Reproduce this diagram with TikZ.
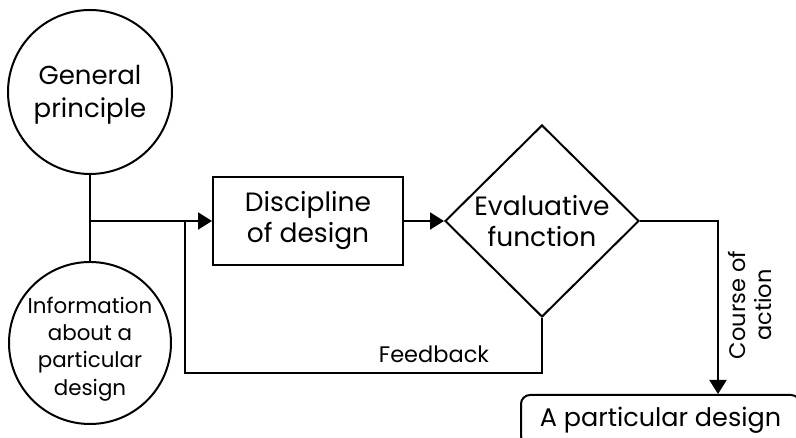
\documentclass[tikz,border=0pt]{standalone}
\usepackage{fontspec}
\setmainfont{Poppins}
\usetikzlibrary{arrows.meta,shapes.geometric}
\begin{document}
\begin{tikzpicture}[x=1pt,y=1pt,
  line width=2pt,
  every node/.style={align=center, inner sep=0pt},
  roundnode/.style={circle, draw, minimum size=#1},
  tip/.style={-{Triangle[length=14pt,width=17pt]}},
  bigtext/.style={font=\fontsize{26}{33}\selectfont},
  padtext/.style={font=\fontsize{25.5}{30}\selectfont},
  midtext/.style={font=\fontsize{26.5}{31}\selectfont},
  smalltext/.style={font=\fontsize{21.4}{27.3}\selectfont},
  labeltext/.style={font=\fontsize{22.5}{26}\selectfont}]
\useasboundingbox (0,0) rectangle (796,438);
\clip (0,0) rectangle (796,438);

% inputs: circles with their text set a little below the centre
\node[roundnode=164pt, label={[bigtext, yshift=-3pt]center:General\\principle}] (gp) at (90,346) {};
\node[roundnode=162pt, label={[smalltext, yshift=-6pt]center:Information\\about a\\particular\\design}] (info) at (90,95) {};
\coordinate (J) at (90,217);

% process
\node[draw, minimum width=190pt, minimum height=88pt, midtext] (disc) at (308,217) {Discipline\\of design};
\node[diamond, draw, minimum width=194pt, minimum height=192pt, midtext] (ev) at (542,217) {Evaluative\\function};

% output
\node[draw, rounded corners=9pt, minimum width=279pt, minimum height=50pt, padtext] (pad) at (660.5,18) {A particular design};

% connectors
\draw (gp) -- (info);
\draw[tip] (J) -- (disc.west);
\draw[tip] (disc.east) -- (ev.west);

\coordinate (fb) at (185,65);
\draw (ev.south) |- (fb) -- (fb |- J);
\node[labeltext, anchor=base] (fbl) at (434,75) {Feedback};

\coordinate (ca) at (718,217);
\draw[tip] (ev.east) -- (ca) -- (ca |- pad.north);
\node[labeltext, rotate=90] (cal) at (750,133) {Course of\\action};
\end{tikzpicture}
\end{document}
